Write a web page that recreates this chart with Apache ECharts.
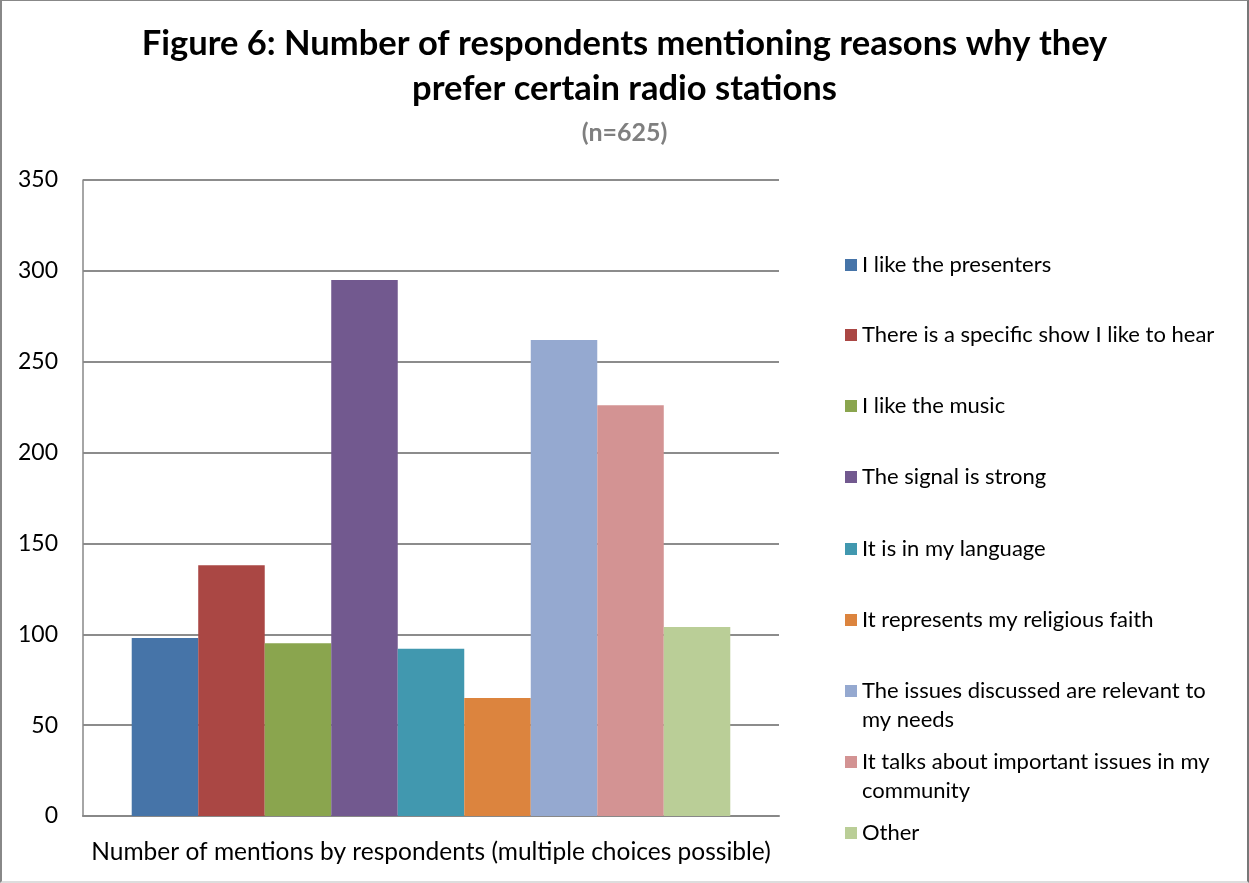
<!DOCTYPE html>
<html>
<head>
<meta charset="utf-8">
<title>Figure 6</title>
<script src="https://cdn.jsdelivr.net/npm/echarts@6/dist/echarts.min.js"></script>
<style>
  html, body { margin: 0; padding: 0; background: #fff; }
  #chart {
    width: 1249px; height: 883px; box-sizing: border-box;
    border-top: 1px solid #888; border-left: 2px solid #888;
    border-right: 2px solid #777; border-bottom: 2px solid #ddd;
  }
</style>
</head>
<body>
<div id="chart"></div>
<script>
// Reasons respondents give for preferring a radio station (n=625)
const categories = ['Number of mentions by respondents (multiple choices possible)'];
const reasons = [
  'I like the presenters',
  'There is a specific show I like to hear',
  'I like the music',
  'The signal is strong',
  'It is in my language',
  'It represents my religious faith',
  'The issues discussed are relevant to my needs',
  'It talks about important issues in my community',
  'Other'
];
const mentions = [98, 138, 95, 295, 92, 65, 262, 226, 104];
const yTicks = [0, 50, 100, 150, 200, 250, 300, 350];

// Legend labels wrapped onto two lines where the text is long
const legendLines = [
  ['I like the presenters'],
  ['There is a specific show I like to hear'],
  ['I like the music'],
  ['The signal is strong'],
  ['It is in my language'],
  ['It represents my religious faith'],
  ['The issues discussed are relevant to', 'my needs'],
  ['It talks about important issues in my', 'community'],
  ['Other']
];

const palette = ['#4674A8', '#AA4744', '#8AA54E', '#72598F', '#4198AF',
                 '#DC843E', '#95A9D0', '#D39393', '#BACE97'];

const FONT = 'Lato, "Liberation Sans", sans-serif';
const LINE_H = 29;
const legendRowCenters = [264, 334, 405, 476, 548, 619, 690, 761, 832];

const legends = reasons.map((name, i) => {
  const lines = legendLines[i];
  const multi = lines.length > 1;
  // A blank leading line keeps the swatch level with the first text line
  const label = multi ? '\u00a0\n' + lines.join('\n') : lines[0];
  return {
    data: [name],
    orient: 'vertical',
    left: 843,
    top: legendRowCenters[i] - (multi ? 1.5 * LINE_H : 0.5 * LINE_H),
    padding: 0,
    icon: 'rect',
    itemWidth: 12,
    itemHeight: 12,
    itemGap: 0,
    selectedMode: false,
    formatter: () => label,
    textStyle: {
      fontFamily: FONT, fontSize: 22, color: '#000',
      lineHeight: LINE_H
    }
  };
});

const chart = echarts.init(document.getElementById('chart'), null, { renderer: 'canvas' });
chart.setOption({
  animation: false,
  color: palette,
  title: [
    {
      text: 'Figure 6: Number of respondents mentioning reasons why they\nprefer certain radio stations',
      left: 'center', top: 15,
      textStyle: { fontFamily: FONT, fontSize: 34.5, fontWeight: 'bold', color: '#000', lineHeight: 45 }
    },
    {
      text: '(n=625)',
      left: 'center', top: 114,
      textStyle: { fontFamily: FONT, fontSize: 25, fontWeight: 'bold', color: '#7f7f7f', lineHeight: 26 }
    }
  ],
  legend: legends,
  grid: { left: 81, right: 468, top: 179, bottom: 65, containLabel: false },
  xAxis: {
    type: 'category',
    data: categories,
    axisTick: { show: false },
    axisLabel: { show: false },
    axisLine: { lineStyle: { color: '#888', width: 2 } },
    name: categories[0],
    nameLocation: 'middle',
    nameGap: 24,
    nameTextStyle: { fontFamily: FONT, fontSize: 24.5, color: '#000' }
  },
  yAxis: {
    type: 'value',
    min: yTicks[0],
    max: yTicks[yTicks.length - 1],
    interval: 50,
    axisLine: { show: true, lineStyle: { color: '#888', width: 1.5 } },
    axisTick: { show: false },
    axisLabel: { fontFamily: FONT, fontSize: 23, color: '#000', margin: 25 },
    splitLine: { lineStyle: { color: '#8c8c8c', width: 2 } }
  },
  series: reasons.map((name, i) => ({
    name,
    type: 'bar',
    data: [mentions[i]],
    barGap: '0%',
    barCategoryGap: '14%',
    itemStyle: { color: palette[i] }
  }))
});
</script>
</body>
</html>
